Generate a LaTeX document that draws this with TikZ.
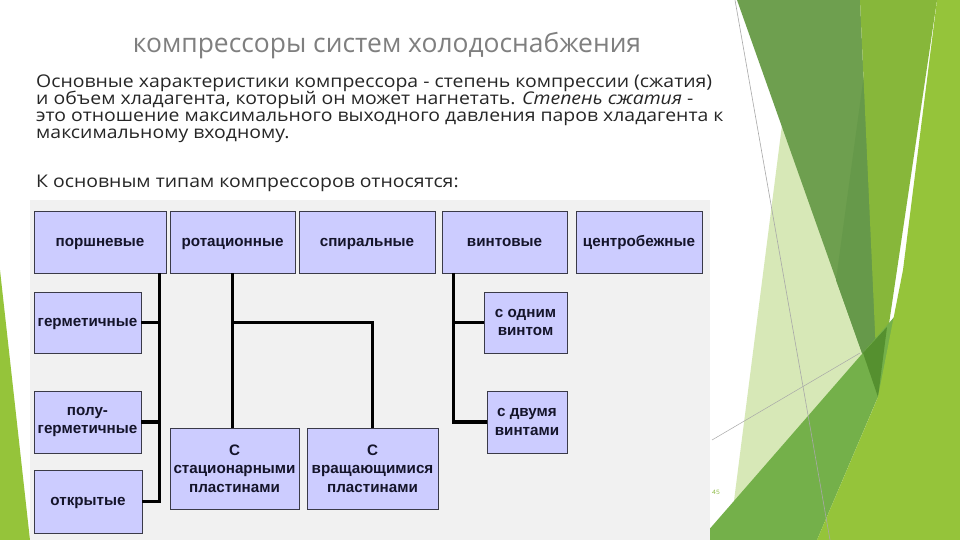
\documentclass[tikz,border=0pt]{standalone}
\usepackage{fontspec}
\setmainfont{Open Sans}[FakeStretch=1.11]
\newfontfamily\titlefont{Open Sans}
\newfontfamily\boxfont{Liberation Sans}
\usetikzlibrary{calc,positioning}
\definecolor{titlegray}{HTML}{7F7F7F}
\definecolor{bodytext}{HTML}{262626}
\definecolor{panelgray}{HTML}{F1F1F1}
\definecolor{boxfill}{HTML}{CCCCFF}
\definecolor{boxline}{HTML}{3A3A48}
\definecolor{boxtext}{HTML}{14142A}
\definecolor{facetpale}{HTML}{D7E8B7}
\definecolor{facetmed}{HTML}{6E9F4F}
\definecolor{facetdeep}{HTML}{66994A}
\definecolor{facetdark}{HTML}{55902F}
\definecolor{facetolive}{HTML}{87B73A}
\definecolor{facetlow}{HTML}{74B04A}
\definecolor{facetlime}{HTML}{95C43A}
\definecolor{facetline}{HTML}{A8A8A8}

\begin{document}
\begin{tikzpicture}[x=1pt, y=-1pt,
  every node/.style={inner sep=0pt},
  titletext/.style={font=\titlefont\fontsize{26.4}{30}\selectfont, text=titlegray, anchor=base},
  bodyline/.style={font=\fontsize{17.5}{20}\selectfont, text=bodytext, anchor=base west},
  typebox/.style={
    draw=boxline, fill=boxfill, line width=0.9pt,
    font=\boxfont\bfseries\fontsize{15.2}{18.5}\selectfont,
    text=boxtext, align=center
  },
  oneline/.style={text height=11pt, text depth=3pt},
  link/.style={line width=3.6pt, black}
]
  \useasboundingbox (0,0) rectangle (960,540);
  \fill[white] (0,0) rectangle (960,540);

  % Zeleniy dekor sprava
  \fill[facetpale] (782,125) -- (880,397) -- (729,540) -- cycle;
  \fill[facetmed] (737,0) -- (860,0) -- (878,398) -- cycle;
  \fill[facetdeep] (868,45) -- (878,398) -- (836,280) -- cycle;
  \fill[facetolive] (860,0) -- (937,0) -- (878,398) -- cycle;
  \fill[facetlow] (700,540) -- (929,277) -- (817,540) -- cycle;
  \fill[facetdark] (863,353) -- (887,327) -- (878,397) -- cycle;
  \fill[facetlime] (937,0) -- (960,0) -- (960,540) -- (817,540) -- (878,397) -- (903,270) -- cycle;
  \draw[facetline, line width=0.6pt] (735,0) -- (830,540);
  \draw[facetline, line width=0.5pt] (712,440) -- (860,353);
  % Zeleniy klin sleva
  \fill[facetlime] (0,270) -- (30,540) -- (0,540) -- cycle;

  % Zagolovok i tekst
  \node[titletext] (title) at (387,53) {компрессоры систем холодоснабжения};
  \node[bodyline] (l1) at (36,88) {Основные характеристики компрессора - степень компрессии (сжатия)};
  \node[bodyline] (l2) at (36,105) {и объем хладагента, который он может нагнетать. \textit{Степень сжатия} -};
  \node[bodyline] (l3) at (36,122) {это отношение максимального выходного давления паров хладагента к};
  \node[bodyline] (l4) at (36,139) {максимальному входному.};
  \node[bodyline] (l5) at (36,187) {К основным типам компрессоров относятся:};

  % Fon skhemy
  \fill[panelgray] (30,200) rectangle (710,540);

  % Tipy kompressorov
  \node[typebox, oneline, minimum width=132pt, minimum height=62pt] (porsh) at (100,242) {поршневые};
  \node[typebox, oneline, minimum width=125pt, minimum height=62pt] (rot) at (232.5,242) {ротационные};
  \node[typebox, oneline, minimum width=136pt, minimum height=62pt] (spir) at (367,242) {спиральные};
  \node[typebox, oneline, minimum width=125pt, minimum height=62pt] (vint) at (504.5,242) {винтовые};
  \node[typebox, oneline, minimum width=126pt, minimum height=62pt] (centr) at (639,242) {центробежные};

  % Porshnevye
  \node[typebox, oneline, minimum width=107pt, minimum height=61pt] (germ) at (87.5,322.5) {герметичные};
  \node[typebox, minimum width=107pt, minimum height=62pt] (polu) at (87.5,422) {полу-\\герметичные};
  \node[typebox, oneline, minimum width=108pt, minimum height=63pt] (otkr) at (88,501.5) {открытые};

  % Rotatsionnye
  \node[typebox, minimum width=129pt, minimum height=81pt] (stat) at (234.5,468.5) {С\\стационарными\\пластинами};
  \node[typebox, minimum width=131pt, minimum height=81pt] (vrash) at (372.5,468.5) {С\\вращающимися\\пластинами};

  % Vintovye
  \node[typebox, minimum width=83pt, minimum height=61pt] (odin) at (525.5,322.5) {с одним\\винтом};
  \node[typebox, minimum width=80pt, minimum height=62pt] (dvum) at (527,422) {с двумя\\винтами};

  % Soedineniya
  \coordinate (ptrunk) at ([xshift=-7pt]porsh.south east);
  \draw[link] (ptrunk) |- (otkr.east);
  \draw[link] (germ.east) -- (germ.east -| ptrunk);
  \draw[link] (polu.east) -- (polu.east -| ptrunk);

  \draw[link] (rot.south) -- (rot.south |- stat.north);
  \draw[link] (rot.south |- odin.west) -| (vrash.north);

  \coordinate (vtrunk) at ([xshift=12pt]vint.south west);
  \draw[link] (vtrunk) |- (dvum.west);
  \draw[link] (odin.west) -- (odin.west -| vtrunk);

  % Nomer slayda
  \node[font=\fontsize{6}{7}\selectfont, text=facetolive] (num) at (716,492) {45};
\end{tikzpicture}
\end{document}
